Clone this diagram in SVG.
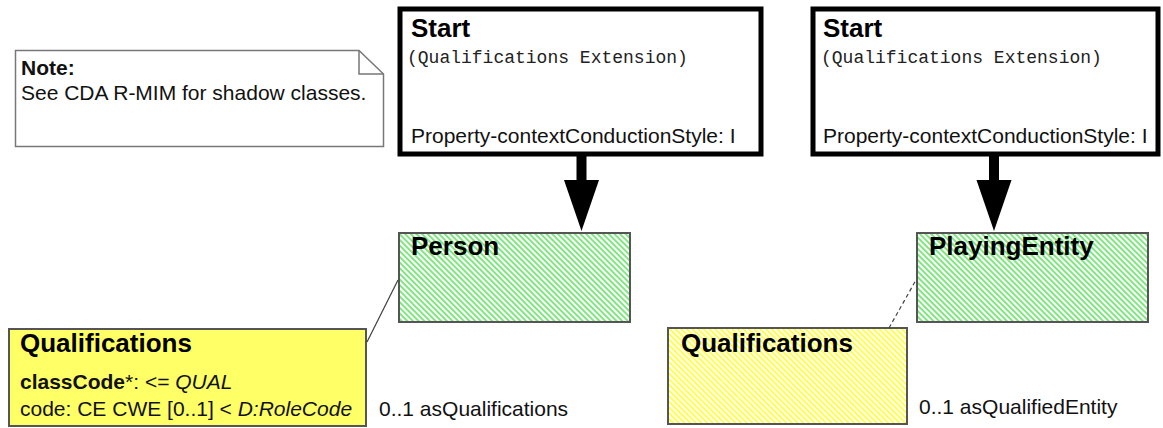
<svg xmlns="http://www.w3.org/2000/svg" width="1163" height="428" viewBox="0 0 1163 428">
<style>
text{font-family:"Liberation Sans",Arial,sans-serif;fill:#111}
.t{font-weight:bold;font-size:26px;fill:#000}
.r{font-size:21px}
.m{font-family:"Liberation Mono","Courier New",monospace;font-size:18px;fill:#222}
.b{font-weight:bold}
.i{font-style:italic}
.cls{stroke:#555;stroke-width:2}
.start{fill:#fff;stroke:#000;stroke-width:5}
</style>
<defs>
<pattern id="hg" width="4" height="4" patternUnits="userSpaceOnUse" patternTransform="rotate(-45)">
<rect width="4" height="4" fill="#fff"/>
<rect width="2" height="4" fill="#80e680"/>
</pattern>
<pattern id="hy" width="4" height="4" patternUnits="userSpaceOnUse" patternTransform="rotate(-45)">
<rect width="4" height="4" fill="#fff"/>
<rect width="2" height="4" fill="#ffff4a"/>
</pattern>
</defs>
<g id="note">
<path d="M15.5,50.5 H359 L383.5,74 V146.5 H15.5 Z" fill="#fff" stroke="#777" stroke-width="1.5"/>
<path d="M359,50.5 V74 H383.5" fill="none" stroke="#777" stroke-width="1.5"/>
<text x="21" y="75" class="r b">Note:</text>
<text x="21" y="100" class="r">See CDA R-MIM for shadow classes.</text>
</g>
<g id="start1">
<rect x="400" y="9" width="361" height="145" class="start"/>
<text x="411" y="37" class="t">Start</text>
<text x="407" y="63" class="m">(Qualifications Extension)</text>
<text x="411" y="143" class="r">Property-contextConductionStyle: I</text>
</g>
<g id="start2">
<rect x="813" y="9" width="345" height="145" class="start"/>
<text x="823" y="37" class="t">Start</text>
<text x="821" y="63" class="m">(Qualifications Extension)</text>
<text x="823" y="143" class="r">Property-contextConductionStyle: I</text>
</g>
<g id="person">
<rect x="399" y="233" width="231" height="89" fill="url(#hg)" class="cls"/>
<text x="411" y="255" class="t">Person</text>
</g>
<g id="playingEntity">
<rect x="917" y="233" width="231" height="89" fill="url(#hg)" class="cls"/>
<text x="929" y="255" class="t">PlayingEntity</text>
</g>
<g id="qualifications1">
<rect x="9" y="329" width="357" height="97" fill="#ffff66" class="cls"/>
<text x="20" y="352" class="t">Qualifications</text>
<text x="20" y="389" class="r"><tspan class="b">classCode</tspan>*: &lt;= <tspan class="i">QUAL</tspan></text>
<text x="20" y="416" class="r">code: CE CWE [0..1] &lt; <tspan class="i">D:RoleCode</tspan></text>
</g>
<g id="qualifications2">
<rect x="668" y="328" width="239" height="96" fill="url(#hy)" class="cls"/>
<text x="681" y="352" class="t">Qualifications</text>
</g>
<g id="connectors">
<rect x="576.5" y="156" width="10" height="25" fill="#000"/>
<path d="M564,180 H599 L581.5,231 Z" fill="#000"/>
<rect x="989" y="156" width="10" height="25" fill="#000"/>
<path d="M976.5,180 H1011.5 L994,231 Z" fill="#000"/>
<line x1="367" y1="342" x2="398" y2="280" stroke="#444" stroke-width="1.2"/>
<line x1="889" y1="328" x2="916" y2="280" stroke="#444" stroke-width="1.2" stroke-dasharray="4,3"/>
<text x="379" y="416" class="r">0..1 asQualifications</text>
<text x="919" y="414" class="r">0..1 asQualifiedEntity</text>
</g>
</svg>
